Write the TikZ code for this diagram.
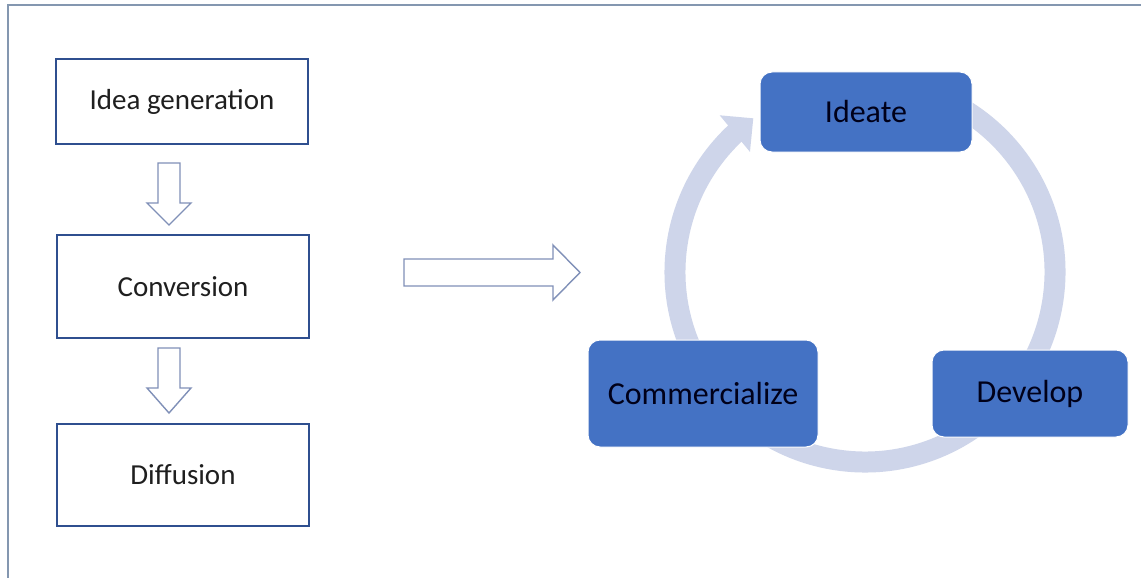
\documentclass[tikz,border=0pt]{standalone}
\usepackage{fontspec}
\setmainfont{Carlito}
\usetikzlibrary{arrows.meta,bending,calc}
\definecolor{frameline}{HTML}{8497B0}
\definecolor{boxline}{HTML}{2F4F8F}
\definecolor{blockline}{HTML}{8090B8}
\definecolor{stagefill}{HTML}{4472C4}
\definecolor{ringcol}{HTML}{CED5EA}
\begin{document}
\begin{tikzpicture}[x=1pt,y=-1pt,
  flowbox/.style={draw=boxline,line width=2.4pt,fill=white,minimum width=252pt,
    font=\fontsize{29}{32}\selectfont,text=black!88,inner sep=0pt},
  stagebox/.style={draw=white,line width=1pt,fill=stagefill,rounded corners=12pt,
    font=\fontsize{32}{36}\selectfont,text=black!90!blue,inner sep=0pt},
  blockarrow/.style={draw=blockline,line width=1.4pt,fill=white,line join=miter}]
\useasboundingbox (0,0) rectangle (1141,578);
\fill[white] (0,0) rectangle (1141,578);
% outer frame
\draw[frameline,line width=2pt] (8,578) -- (8,5) -- (1141,5);

% linear process on the left
\node[flowbox,minimum height=85pt]  (gen)  at (182,101.5) {Idea generation};
\node[flowbox,minimum height=103pt] (conv) at (183,286.5) {Conversion};
\node[flowbox,minimum height=102pt] (diff) at (183,475)   {Diffusion};

% hollow block arrows between the steps
\draw[blockarrow] (158,163) -- (180,163) -- (180,203) -- (191,203) -- (169,225)
  -- (147,203) -- (158,203) -- cycle;
\draw[blockarrow] (158,348) -- (180,348) -- (180,388) -- (191,388) -- (169,413)
  -- (147,388) -- (158,388) -- cycle;
% transition arrow to the cycle
\draw[blockarrow] (404,259) -- (553,259) -- (553,245) -- (580,272.5) -- (553,300)
  -- (553,286) -- (404,286) -- cycle;

% cycle ring: one clockwise sweep ending in an arrowhead next to the first stage
\coordinate (ctr) at (865,272);
\draw[ringcol,line width=21pt,-{Triangle[length=24pt,width=46pt,flex]}]
  ($(ctr)+(-80:190)$) arc[start angle=-80,end angle=234,radius=190];

% stages of the cycle
\node[stagebox,minimum width=212pt,minimum height=80pt]  (ideate) at (866,112)   {Ideate};
\node[stagebox,minimum width=230pt,minimum height=107pt] (comm)   at (703,393.5) {Commercialize};
\node[stagebox,minimum width=196pt,minimum height=87pt]  (dev)    at (1030,393.5){Develop};
\end{tikzpicture}
\end{document}
